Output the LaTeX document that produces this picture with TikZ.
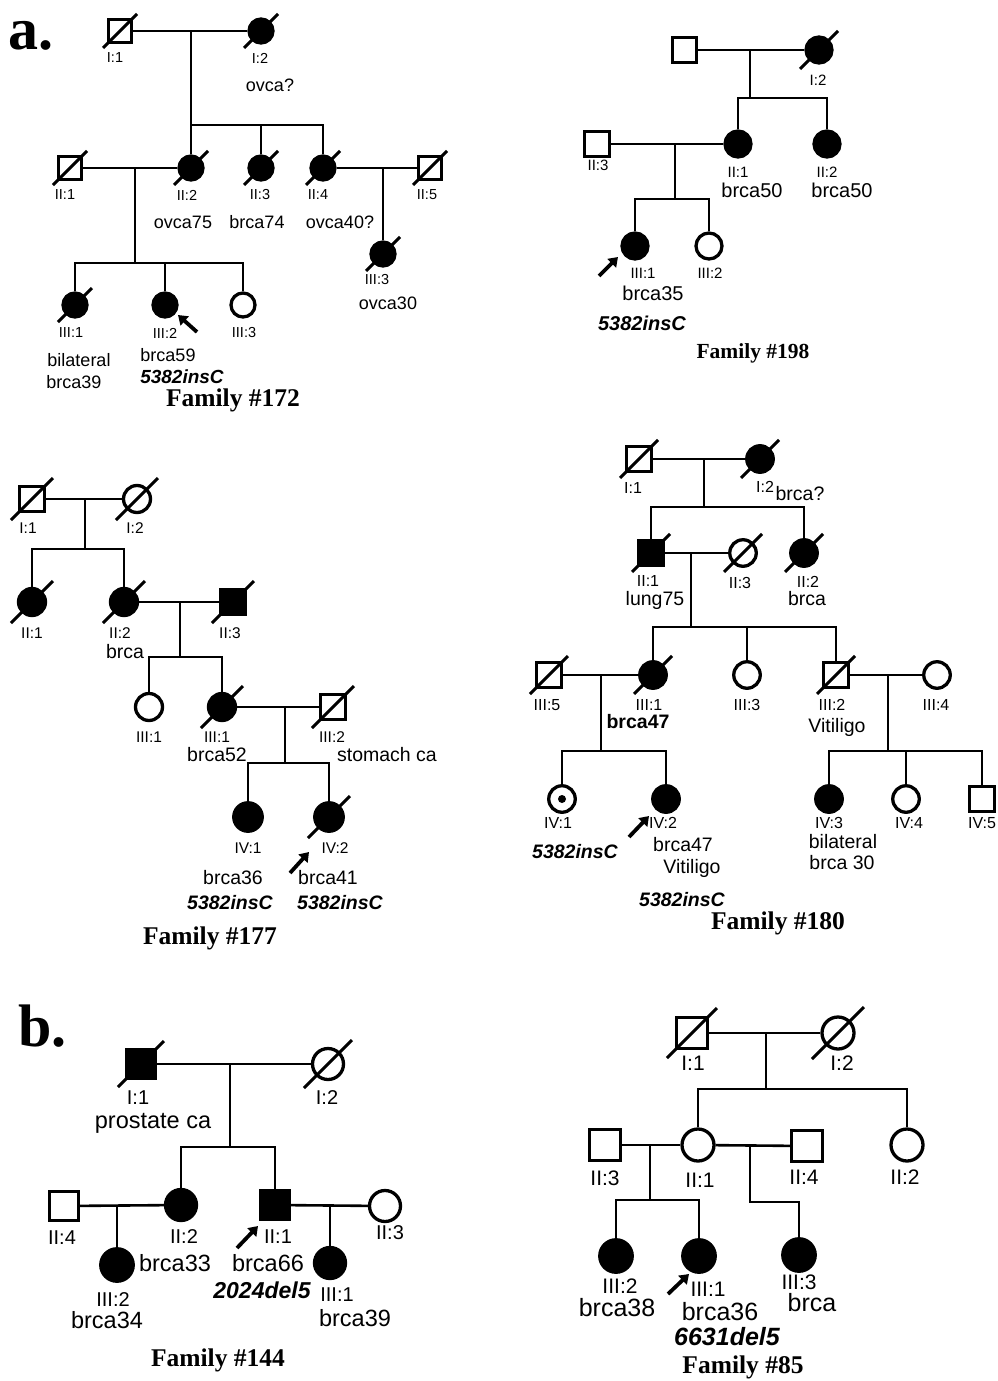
\documentclass[tikz,border=0pt]{standalone}
\usepackage{fontspec}
\setmainfont{Liberation Sans}
\newfontfamily\serifbf{Liberation Serif}
\usetikzlibrary{arrows.meta}
\tikzset{
  ln/.style={line width=2.6pt},
  sq/.style={draw, line width=3.3pt, rectangle, minimum size=#1, inner sep=0pt},
  ci/.style={draw, line width=3.3pt, circle, minimum size=#1, inner sep=0pt},
  aff/.style={fill=black},
  slash/.style={line width=3pt},
  prob/.style={line width=3.8pt, -{Triangle[length=9pt,width=12pt]}},
  lab/.style={inner sep=0pt, font=\fontsize{#1}{#1}\selectfont},
  mut/.style={inner sep=0pt, font=\fontsize{#1}{#1}\selectfont\bfseries\itshape},
  ttl/.style={inner sep=0pt, font=\fontsize{#1}{#1}\selectfont\serifbf\bfseries},
}
\newcommand\dead[2]{\draw[slash] ([shift={(-#2,#2)}]#1.center) -- ([shift={(#2,-#2)}]#1.center);}
\begin{document}
\begin{tikzpicture}[x=1pt,y=-1pt]
\useasboundingbox (0,0) rectangle (997,1381);
\fill[white] (0,0) rectangle (997,1381);
\node[ttl=60,anchor=base west] (la) at (8,49) {a.};
\node[ttl=60,anchor=base west] (lb) at (18,1046) {b.};
% ---------------- Family 172
\node[sq=23.5] (A1) at (120,31) {};
\node[ci=24,aff] (A2) at (261,31) {};
\dead{A1}{17}\dead{A2}{17}
\draw[ln] (A1) -- (A2);
\coordinate (Am1) at (191,31); \coordinate (As1) at (191,125);
\draw[ln] (Am1) -- (As1);
\node[sq=23.5] (A3) at (70,168) {};
\node[ci=24,aff] (A4) at (191,168) {};
\node[ci=24,aff] (A5) at (261,168) {};
\node[ci=24,aff] (A6) at (323,168) {};
\node[sq=23.5] (A7) at (430,168) {};
\dead{A3}{17}\dead{A4}{17}\dead{A5}{17}\dead{A6}{17}\dead{A7}{17}
\draw[ln] (A4) |- (As1) -| (A6);
\draw[ln] (A5) -- (A5 |- As1);
\draw[ln] (A3) -- (A4);
\draw[ln] (A6) -- (A7);
\coordinate (Am2) at (135,168); \coordinate (As2) at (135,263);
\draw[ln] (Am2) -- (As2);
\node[ci=24,aff] (A8) at (75,305) {};
\node[ci=24,aff] (A9) at (165,305) {};
\node[ci=24] (A10) at (243,305) {};
\dead{A8}{17}
\draw[ln] (A8) |- (As2) -| (A10);
\draw[ln] (A9) -- (A9 |- As2);
\coordinate (Am3) at (383,168);
\node[ci=24,aff] (A11) at (383,254) {};
\dead{A11}{17}
\draw[ln] (Am3) -- (A11);
\coordinate (Aa1) at (197,332); \coordinate (Aa2) at (178,315);
\draw[prob] (Aa1) -- (Aa2);
\node[lab=14.5] (A1l) at (115,58) {I:1};
\node[lab=14.5] (A2l) at (260,58) {I:2};
\node[lab=18] (A2t) at (270,85) {ovca?};
\node[lab=14.5] (A3l) at (65,195) {II:1};
\node[lab=14.5] (A4l) at (187,195) {II:2};
\node[lab=14.5] (A5l) at (260,195) {II:3};
\node[lab=14.5] (A6l) at (318,195) {II:4};
\node[lab=14.5] (A7l) at (427,195) {II:5};
\node[lab=18] (A4t) at (183,222) {ovca75};
\node[lab=18] (A5t) at (257,222) {brca74};
\node[lab=18] (A6t) at (340,222) {ovca40?};
\node[lab=14.5] (A11l) at (377,280) {III:3};
\node[lab=18] (A11t) at (388,303) {ovca30};
\node[lab=14.5] (A8l) at (71,333) {III:1};
\node[lab=14.5] (A9l) at (165,333) {III:2};
\node[lab=14.5] (A10l) at (244,333) {III:3};
\node[lab=18] (A8t) at (79,360) {bilateral};
\node[lab=18] (A8u) at (74,382) {brca39};
\node[lab=18] (A9t) at (168,355) {brca59};
\node[mut=19] (A9m) at (182,377) {5382insC};
\node[ttl=25.5] (At) at (233,400) {Family \#172};
% ---------------- Family 198
\node[sq=24.5] (B1) at (684.5,50) {};
\node[ci=26,aff] (B2) at (819,50) {};
\dead{B2}{19}
\draw[ln] (B1) -- (B2);
\coordinate (Bm1) at (750,50); \coordinate (Bs1) at (750,98);
\draw[ln] (Bm1) -- (Bs1);
\node[ci=26,aff] (B3) at (738,144) {};
\node[ci=26,aff] (B4) at (827,144) {};
\draw[ln] (B3) |- (Bs1) -| (B4);
\node[sq=24.5] (B5) at (597,144) {};
\draw[ln] (B5) -- (B3);
\coordinate (Bm2) at (675,144); \coordinate (Bs2) at (675,199);
\draw[ln] (Bm2) -- (Bs2);
\node[ci=26,aff] (B6) at (635,246) {};
\node[ci=26] (B7) at (709,246) {};
\draw[ln] (B6) |- (Bs2) -| (B7);
\coordinate (Ba1) at (599,276); \coordinate (Ba2) at (618,257);
\draw[prob] (Ba1) -- (Ba2);
\node[lab=15] (B2l) at (818,80) {I:2};
\node[lab=15] (B5l) at (598,165) {II:3};
\node[lab=15] (B3l) at (738,172) {II:1};
\node[lab=20] (B3t) at (752,190) {brca50};
\node[lab=15] (B4l) at (827,172) {II:2};
\node[lab=20] (B4t) at (842,190) {brca50};
\node[lab=15] (B6l) at (643,273) {III:1};
\node[lab=15] (B7l) at (710,273) {III:2};
\node[lab=20] (B6t) at (653,293) {brca35};
\node[mut=20] (B6m) at (642,323) {5382insC};
\node[ttl=21.5] (Bt) at (753,353) {Family \#198};
% ---------------- Family 177
\node[sq=25.5] (C1) at (32,499) {};
\node[ci=27] (C2) at (137,499) {};
\dead{C1}{21}\dead{C2}{21}
\draw[ln] (C1) -- (C2);
\coordinate (Cm1) at (85,499); \coordinate (Cs1) at (85,549);
\draw[ln] (Cm1) -- (Cs1);
\node[ci=27,aff] (C3) at (32,602) {};
\node[ci=27,aff] (C4) at (124,602) {};
\node[sq=25.5,aff] (C5) at (233,602) {};
\dead{C3}{21}\dead{C4}{21}\dead{C5}{21}
\draw[ln] (C3) |- (Cs1) -| (C4);
\draw[ln] (C4) -- (C5);
\coordinate (Cm2) at (180,602); \coordinate (Cs2) at (180,657);
\draw[ln] (Cm2) -- (Cs2);
\node[ci=27] (C6) at (149,707) {};
\node[ci=27,aff] (C7) at (222,707) {};
\node[sq=25.5] (C8) at (333,707) {};
\dead{C7}{21}\dead{C8}{21}
\draw[ln] (C6) |- (Cs2) -| (C7);
\draw[ln] (C7) -- (C8);
\coordinate (Cm3) at (285,707); \coordinate (Cs3) at (285,763);
\draw[ln] (Cm3) -- (Cs3);
\node[ci=28.5,aff] (C9) at (248,817) {};
\node[ci=28.5,aff] (C10) at (329,817) {};
\dead{C10}{21}
\draw[ln] (C9) |- (Cs3) -| (C10);
\coordinate (Ca1) at (290,873); \coordinate (Ca2) at (309,852);
\draw[prob] (Ca1) -- (Ca2);
\node[lab=15.5] (C1l) at (28,528) {I:1};
\node[lab=15.5] (C2l) at (135,528) {I:2};
\node[lab=15.5] (C3l) at (32,633) {II:1};
\node[lab=15.5] (C4l) at (120,633) {II:2};
\node[lab=19.5] (C4t) at (125,652) {brca};
\node[lab=15.5] (C5l) at (230,633) {II:3};
\node[lab=15.5] (C6l) at (149,737) {III:1};
\node[lab=15.5] (C7l) at (217,737) {III:1};
\node[lab=19.5] (C7t) at (217,755) {brca52};
\node[lab=15.5] (C8l) at (332,737) {III:2};
\node[lab=19.5] (C8t) at (387,755) {stomach ca};
\node[lab=15.5] (C9l) at (248,848) {IV:1};
\node[lab=15.5] (C10l) at (335,848) {IV:2};
\node[lab=19.5] (C9t) at (233,878) {brca36};
\node[mut=19.5] (C9m) at (230,903) {5382insC};
\node[lab=19.5] (C10t) at (328,878) {brca41};
\node[mut=19.5] (C10m) at (340,903) {5382insC};
\node[ttl=25.5] (Ct) at (210,938) {Family \#177};
% ---------------- Family 180
\node[sq=25.5] (D1) at (639,459) {};
\node[ci=26.5,aff] (D2) at (760,459) {};
\dead{D1}{19}\dead{D2}{19}
\draw[ln] (D1) -- (D2);
\coordinate (Dm1) at (704,459); \coordinate (Ds1) at (704,507);
\draw[ln] (Dm1) -- (Ds1);
\node[sq=25.5,aff] (D3) at (651,553) {};
\node[ci=26.5] (D4) at (743,553) {};
\node[ci=26.5,aff] (D5) at (804,553) {};
\dead{D3}{19}\dead{D4}{19}\dead{D5}{19}
\draw[ln] (D3) |- (Ds1) -| (D5);
\draw[ln] (D3) -- (D4);
\coordinate (Dm2) at (691,553); \coordinate (Ds2) at (691,627);
\draw[ln] (Dm2) -- (Ds2);
\node[sq=25.5] (D6) at (549,675) {};
\node[ci=26.5,aff] (D7) at (653,675) {};
\node[ci=26.5] (D8) at (747,675) {};
\node[sq=25.5] (D9) at (836,675) {};
\node[ci=26.5] (D10) at (937,675) {};
\dead{D6}{19}\dead{D7}{19}\dead{D9}{19}
\draw[ln] (D7) |- (Ds2) -| (D9);
\draw[ln] (D8) -- (D8 |- Ds2);
\draw[ln] (D6) -- (D7);
\draw[ln] (D9) -- (D10);
\coordinate (Dm3) at (601,675); \coordinate (Ds3) at (601,751);
\draw[ln] (Dm3) -- (Ds3);
\node[ci=26.5] (D11) at (562,799) {};
\fill (D11.center) circle (4pt);
\node[ci=26.5,aff] (D12) at (666,799) {};
\draw[ln] (D11) |- (Ds3) -| (D12);
\coordinate (Dm4) at (888,675); \coordinate (Ds4) at (888,751);
\draw[ln] (Dm4) -- (Ds4);
\node[ci=26.5,aff] (D13) at (829,799) {};
\node[ci=26.5] (D14) at (906,799) {};
\node[sq=25.5] (D15) at (982,799) {};
\draw[ln] (D13) |- (Ds4) -| (D15);
\draw[ln] (D14) -- (D14 |- Ds4);
\coordinate (Da1) at (629,837); \coordinate (Da2) at (649,816);
\draw[prob] (Da1) -- (Da2);
\node[lab=16] (D1l) at (633,488) {I:1};
\node[lab=16] (D2l) at (765,487) {I:2};
\node[lab=19.5] (D2t) at (800,494) {brca?};
\node[lab=16] (D3l) at (648,581) {II:1};
\node[lab=19.5] (D3t) at (655,600) {lung75};
\node[lab=16] (D4l) at (740,583) {II:3};
\node[lab=16] (D5l) at (808,582) {II:2};
\node[lab=19.5] (D5t) at (807,599) {brca};
\node[lab=16] (D6l) at (547,705) {III:5};
\node[lab=16] (D7l) at (649,705) {III:1};
\node[lab=19.5,font=\fontsize{19.5}{19.5}\selectfont\bfseries] (D7t) at (638,722) {brca47};
\node[lab=16] (D8l) at (747,705) {III:3};
\node[lab=16] (D9l) at (832,705) {III:2};
\node[lab=19.5] (D9t) at (837,727) {Vitiligo};
\node[lab=16] (D10l) at (936,705) {III:4};
\node[lab=16] (D11l) at (558,823) {IV:1};
\node[mut=19.5] (D11m) at (575,852) {5382insC};
\node[lab=16] (D12l) at (663,823) {IV:2};
\node[lab=19.5] (D12t) at (683,845) {brca47};
\node[lab=19.5] (D12u) at (692,868) {Vitiligo};
\node[mut=19.5] (D12m) at (682,900) {5382insC};
\node[lab=16] (D13l) at (829,823) {IV:3};
\node[lab=19.5] (D13t) at (843,842) {bilateral};
\node[lab=19.5] (D13u) at (842,863) {brca 30};
\node[lab=16] (D14l) at (909,823) {IV:4};
\node[lab=16] (D15l) at (982,823) {IV:5};
\node[ttl=25.5] (Dt) at (778,923) {Family \#180};
% ---------------- Family 144
\node[sq=28.5,aff] (E1) at (141,1064) {};
\node[ci=31] (E2) at (328,1064) {};
\dead{E1}{23}\dead{E2}{24}
\draw[ln] (E1) -- (E2);
\coordinate (Em1) at (230,1064); \coordinate (Es1) at (230,1147);
\draw[ln] (Em1) -- (Es1);
\node[ci=31,aff] (E3) at (181,1205) {};
\node[sq=28.5,aff] (E4) at (275,1205) {};
\draw[ln] (E3) |- (Es1) -| (E4);
\node[sq=28.5] (E5) at (64,1206) {};
\node[ci=31] (E6) at (385,1206) {};
\draw[ln] (E5) -- (E3);
\draw[ln] (E4) -- (E6);
\coordinate (Em2) at (117,1205);
\node[ci=32.5,aff] (E7) at (117,1265) {};
\draw[ln] (Em2) -- (E7);
\coordinate (Em3) at (330,1205);
\node[ci=31,aff] (E8) at (330,1263) {};
\draw[ln] (Em3) -- (E8);
\coordinate (Ea1) at (237,1248); \coordinate (Ea2) at (258,1226);
\draw[prob] (Ea1) -- (Ea2);
\node[lab=20] (E1l) at (138,1098) {I:1};
\node[lab=23.5] (E1t) at (153,1123) {prostate ca};
\node[lab=20] (E2l) at (327,1098) {I:2};
\node[lab=20] (E5l) at (62,1238) {II:4};
\node[lab=20] (E3l) at (184,1237) {II:2};
\node[lab=23.5] (E3t) at (175,1263) {brca33};
\node[lab=20] (E4l) at (278,1237) {II:1};
\node[lab=23.5] (E4t) at (268,1263) {brca66};
\node[mut=23] (E4m) at (262,1290) {2024del5};
\node[lab=20] (E6l) at (390,1233) {II:3};
\node[lab=20] (E7l) at (113,1300) {III:2};
\node[lab=23.5] (E7t) at (107,1320) {brca34};
\node[lab=20] (E8l) at (337,1295) {III:1};
\node[lab=23.5] (E8t) at (355,1318) {brca39};
\node[ttl=25.5] (Et) at (218,1360) {Family \#144};
% ---------------- Family 85
\node[sq=30.5] (F1) at (692,1033) {};
\node[ci=32] (F2) at (838,1033) {};
\dead{F1}{25}\dead{F2}{26}
\draw[ln] (F1) -- (F2);
\coordinate (Fm1) at (766,1033); \coordinate (Fs1) at (766,1089);
\draw[ln] (Fm1) -- (Fs1);
\node[ci=32] (F3) at (698,1145) {};
\node[ci=32] (F4) at (907,1145) {};
\draw[ln] (F3) |- (Fs1) -| (F4);
\node[sq=30.5] (F5) at (605,1145) {};
\node[sq=30.5] (F6) at (807,1146) {};
\draw[ln] (F5) -- (F3);
\draw[ln] (F3) -- (F6);
\coordinate (Fm2) at (650,1145); \coordinate (Fs2) at (650,1200);
\draw[ln] (Fm2) -- (Fs2);
\node[ci=32.5,aff] (F7) at (616,1256) {};
\node[ci=32.5,aff] (F8) at (699,1256) {};
\draw[ln] (F7) |- (Fs2) -| (F8);
\coordinate (Fm3) at (750,1145); \coordinate (Fs3) at (750,1202);
\node[ci=32.5,aff] (F9) at (799,1255) {};
\draw[ln] (Fm3) -- (Fs3) -| (F9);
\coordinate (Fa1) at (668,1294); \coordinate (Fa2) at (689,1274);
\draw[prob] (Fa1) -- (Fa2);
\node[lab=21] (F1l) at (693,1063) {I:1};
\node[lab=21] (F2l) at (842,1063) {I:2};
\node[lab=21] (F5l) at (605,1178) {II:3};
\node[lab=21] (F3l) at (700,1180) {II:1};
\node[lab=21] (F6l) at (804,1177) {II:4};
\node[lab=21] (F4l) at (905,1177) {II:2};
\node[lab=21] (F7l) at (620,1286) {III:2};
\node[lab=25] (F7t) at (617,1308) {brca38};
\node[lab=21] (F8l) at (708,1289) {III:1};
\node[lab=25] (F8t) at (720,1312) {brca36};
\node[mut=25] (F8m) at (727,1337) {6631del5};
\node[lab=21] (F9l) at (799,1282) {III:3};
\node[lab=25] (F9t) at (812,1303) {brca};
\node[ttl=25.5] (Ft) at (743,1367) {Family \#85};
\end{tikzpicture}
\end{document}
